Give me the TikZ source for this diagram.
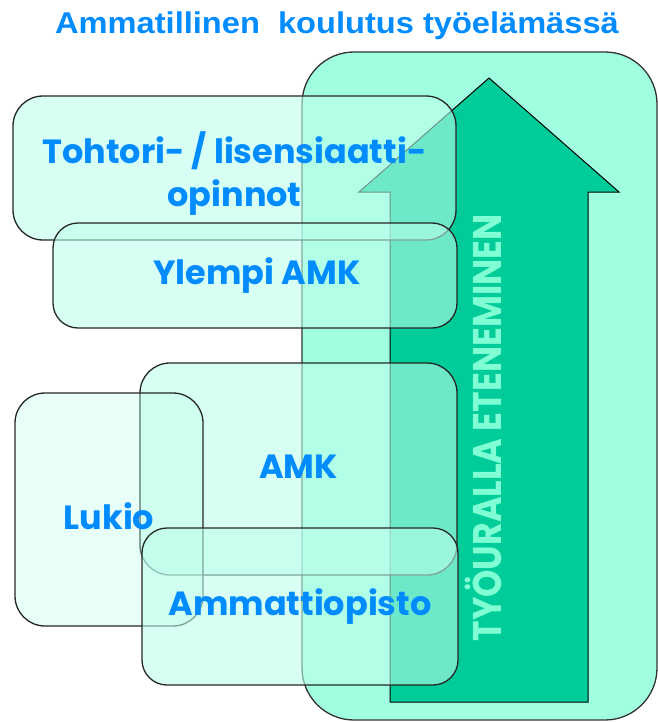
\documentclass[tikz,border=0pt]{standalone}
\usepackage{fontspec}
\setmainfont{Liberation Sans}
\newfontfamily\gothicfont{Poppins}
\definecolor{titleblue}{RGB}{0,140,255}
\definecolor{workmint}{RGB}{160,255,224}
\definecolor{arrowgreen}{RGB}{0,204,153}
\definecolor{arrowtext}{RGB}{128,255,212}
\definecolor{boxmint}{RGB}{188,255,236}
\tikzset{
  edubox/.style={draw=black!85, line width=1.3pt, fill=boxmint, fill opacity=0.58,
    inner sep=0pt},
  boxlabel/.style={text=titleblue, align=center, inner sep=0pt,
    font=\gothicfont\bfseries\fontsize{33.5}{43}\selectfont},
}
\begin{document}
\begin{tikzpicture}[x=1pt, y=-1pt]
  \useasboundingbox (0,0) rectangle (657,722);
  % title
  \node[text=titleblue, font=\bfseries\fontsize{30}{34}\selectfont] (title) at (337,26)
    {\scalebox{1.087}[1]{Ammatillinen\ \ koulutus työelämässä}};
  % working life background and arrow
  \node[draw=black!80, line width=1.3pt, fill=workmint, rounded corners=52pt,
    minimum width=355pt, minimum height=668pt, inner sep=0pt] (worklife) at (479.5,386) {};
  \draw[draw=black, line width=1pt, fill=arrowgreen]
    (390,702) -- (390,192) -- (359,192) -- (489,78) -- (619,192)
    -- (588,192) -- (588,702) -- cycle;
  \node[rotate=90, text=arrowtext, inner sep=0pt, font=\gothicfont\bfseries\fontsize{40}{42}\selectfont]
    (career) at (483,428) {\scalebox{0.87}[1]{TYÖURALLA ETENEMINEN}};
  % education boxes
  \node[edubox, rounded corners=30pt, minimum width=443pt, minimum height=144pt]
    (tohtori) at (234.5,168) {};
  \node[edubox, rounded corners=25pt, minimum width=404pt, minimum height=105pt]
    (ylempi) at (255,275.5) {};
  \node[edubox, rounded corners=30pt, minimum width=317pt, minimum height=212pt]
    (amk) at (298.5,469) {};
  \node[edubox, fill opacity=0.34, rounded corners=30pt, minimum width=188pt, minimum height=233pt]
    (lukio) at (109,509.5) {};
  \node[edubox, rounded corners=25pt, minimum width=316pt, minimum height=157pt]
    (ammatti) at (300,606.5) {};
  % labels
  \node[boxlabel] (tohtoriText) at ([yshift=-6pt]tohtori.center) {Tohtori- / lisensiaatti-\\opinnot};
  \node[boxlabel] (ylempiText) at ([xshift=2pt]ylempi.center) {Ylempi AMK};
  \node[boxlabel] (amkText) at ([yshift=2pt]amk.center) {AMK};
  \node[boxlabel] (lukioText) at ([yshift=-7pt]lukio.center) {Lukio};
  \node[boxlabel] (ammattiText) at (ammatti.center) {Ammattiopisto};
\end{tikzpicture}
\end{document}
